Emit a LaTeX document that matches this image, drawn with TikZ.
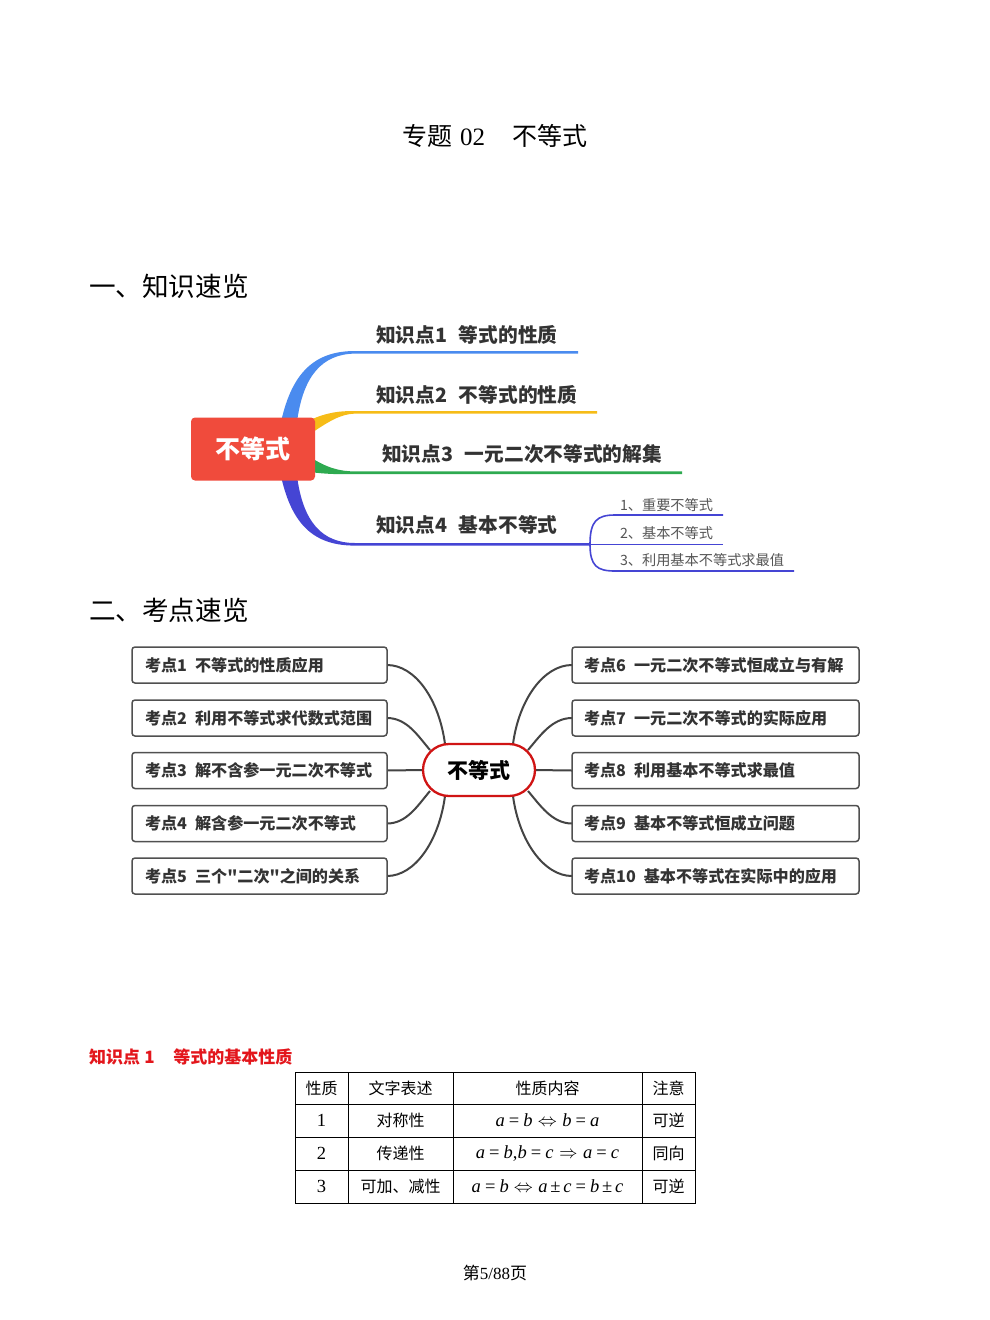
\documentclass[tikz,border=0pt]{standalone}
\usepackage{fontspec}
\usepackage{unicode-math}
\setmainfont{Liberation Serif}
\setmathfont{Latin Modern Math}
\newfontfamily\cjk{Noto Sans CJK SC}
\newcommand{\vi}[1]{\textit{#1}}
\newcommand{\eqs}{\hspace{0.22em}=\hspace{0.22em}}
\newcommand{\pms}{\hspace{0.15em}±\hspace{0.15em}}
\newcommand{\arr}[1]{\hspace{0.3em}$#1$\hspace{0.3em}}
\usetikzlibrary{calc,backgrounds}
\definecolor{mmred}{HTML}{F04B3C}
\definecolor{bblue}{HTML}{4A8BEF}
\definecolor{byellow}{HTML}{F6BC17}
\definecolor{bgreen}{HTML}{2EAA50}
\definecolor{bindigo}{HTML}{4545D4}
\definecolor{txtdark}{HTML}{333333}
\definecolor{txtgray}{HTML}{555555}
\definecolor{boxgray}{HTML}{505050}
\definecolor{linegray}{HTML}{444444}
\definecolor{cred}{HTML}{D01414}
\definecolor{headred}{HTML}{E3161C}
\begin{document}
\begin{tikzpicture}[x=1pt,y=-1pt,
  every node/.style={inner sep=0pt,outer sep=0pt},
  klabel/.style={anchor=west,text=txtdark,font=\fontsize{19.7}{22}\selectfont\cjk\bfseries},
  sublabel/.style={anchor=west,text=txtgray,font=\fontsize{14.2}{16}\selectfont\cjk},
  kbox/.style={draw=boxgray,line width=1.5pt,rounded corners=3pt,fill=white,align=left,
    inner xsep=13pt,minimum height=36pt,text=txtdark,font=\fontsize{16.1}{19}\selectfont\cjk\bfseries},
  lbox/.style={kbox,minimum width=255pt,text width=229pt},
  rbox/.style={kbox,inner xsep=12pt,minimum width=287pt,text width=263pt},
  conn/.style={draw=linegray,line width=2pt},
  cell/.style={font=\fontsize{16}{19}\selectfont\cjk},
  mcell/.style={font=\fontsize{18.5}{20}\selectfont},
  tline/.style={line width=0.9pt}]
\useasboundingbox (0,0) rectangle (990,1320);
\begin{pgfonlayer}{background}
\fill[white] (0,0) rectangle (990,1320);
\end{pgfonlayer}

% title and headings
\node (title) at (495,136) {\fontsize{25}{30}\selectfont\cjk 专题\hspace{0.3em}\rmfamily 02\hspace{1.1em}\cjk 不等式};
\node[anchor=west] (h1) at (89,286) {\fontsize{26.6}{30}\selectfont\cjk 一、知识速览};
\node[anchor=west] (h2) at (89,610) {\fontsize{26.6}{30}\selectfont\cjk 二、考点速览};

% ---------- mind map 1 ----------
\fill[bblue] (281,422) .. controls (292,372) and (315,351) .. (355,351) -- (578,351) -- (578,353.6)
  -- (355,353.6) .. controls (322,354) and (303,376) .. (297,422) -- cycle;
\fill[byellow] (310,420) .. controls (328,412) and (340,411) .. (355,411) -- (597,411) -- (597,413.6)
  -- (355,413.6) .. controls (340,414) and (328,422) .. (310,434) -- cycle;
\fill[bgreen] (310,457) .. controls (327,468) and (340,471.4) .. (355,471.4) -- (682,471.4) -- (682,474)
  -- (355,474) .. controls (338,474.5) and (325,474) .. (310,472) -- cycle;
\fill[bindigo] (281,476) .. controls (292,526) and (315,545.6) .. (355,545.6) -- (590,545.6) -- (590,543)
  -- (355,543) .. controls (322,543) and (303,522) .. (297,476) -- cycle;
\coordinate (fork) at (590,544.3);
\coordinate (s1) at (723,515);
\coordinate (s2) at (723,544.3);
\coordinate (s3) at (794,571);
\draw[bindigo,line width=1.6pt] (fork) .. controls (590,521) and (597,515) .. (615,515) -- (s1);
\draw[bindigo,line width=1.6pt] (fork) -- (s2);
\draw[bindigo,line width=1.6pt] (fork) .. controls (590,566) and (597,571) .. (615,571) -- (s3);

\node[fill=mmred,rounded corners=4pt,minimum width=124pt,minimum height=63pt] (root) at (253,449)
  {\fontsize{25}{30}\selectfont\cjk\bfseries\color{white}不等式};

\node[klabel] (k1) at (376,335) {知识点1\hspace{0.6em}等式的性质};
\node[klabel] (k2) at (376,395) {知识点2\hspace{0.6em}不等式的性质};
\node[klabel] (k3) at (382,454) {知识点3\hspace{0.6em}一元二次不等式的解集};
\node[klabel] (k4) at (376,525) {知识点4\hspace{0.6em}基本不等式};
\node[sublabel] (t1) at (620,505) {1、重要不等式};
\node[sublabel] (t2) at (620,533) {2、基本不等式};
\node[sublabel] (t3) at (620,560) {3、利用基本不等式求最值};

% ---------- mind map 2 ----------
\node[draw=cred,line width=2.3pt,fill=white,rounded corners=26pt,minimum width=112pt,minimum height=52pt]
  (c) at (479,770) {\fontsize{21}{24}\selectfont\cjk\bfseries 不等式};

\node[lbox] (L1) at (259.5,665) {\mbox{考点1\hspace{0.5em}不等式的性质应用}};
\node[lbox] (L2) at (259.5,718) {\mbox{考点2\hspace{0.5em}利用不等式求代数式范围}};
\node[lbox] (L3) at (259.5,770.5) {\mbox{考点3\hspace{0.5em}解不含参一元二次不等式}};
\node[lbox] (L4) at (259.5,823.5) {\mbox{考点4\hspace{0.5em}解含参一元二次不等式}};
\node[lbox] (L5) at (259.5,876) {\mbox{考点5\hspace{0.5em}三个"二次"之间的关系}};

\node[rbox] (R1) at (715.5,665) {\mbox{考点6\hspace{0.5em}一元二次不等式恒成立与有解}};
\node[rbox] (R2) at (715.5,718) {\mbox{考点7\hspace{0.5em}一元二次不等式的实际应用}};
\node[rbox] (R3) at (715.5,770.5) {\mbox{考点8\hspace{0.5em}利用基本不等式求最值}};
\node[rbox] (R4) at (715.5,823.5) {\mbox{考点9\hspace{0.5em}基本不等式恒成立问题}};
\node[rbox] (R5) at (715.5,876) {\mbox{考点10\hspace{0.5em}基本不等式在实际中的应用}};

\begin{pgfonlayer}{background}
\draw[conn] (L1.east) .. controls +(28,0) and +(-6,-45) .. ($(c.north west)+(22,0)$);
\draw[conn] (L2.east) .. controls +(20,0) and +(-12,-14) .. ($(c.west)+(7,-20)$);
\draw[conn] (L3.east) -- (c.west);
\draw[conn] (L4.east) .. controls +(20,0) and +(-12,14) .. ($(c.west)+(7,21)$);
\draw[conn] (L5.east) .. controls +(28,0) and +(-6,45) .. ($(c.south west)+(22,0)$);
\draw[conn] (R1.west) .. controls +(-28,0) and +(6,-45) .. ($(c.north east)+(-22,0)$);
\draw[conn] (R2.west) .. controls +(-20,0) and +(12,-14) .. ($(c.east)+(-7,-20)$);
\draw[conn] (R3.west) -- (c.east);
\draw[conn] (R4.west) .. controls +(-20,0) and +(12,14) .. ($(c.east)+(-7,21)$);
\draw[conn] (R5.west) .. controls +(-28,0) and +(6,45) .. ($(c.south east)+(-22,0)$);
\end{pgfonlayer}

% ---------- table ----------
\node[anchor=west,text=headred] (h3) at (89,1057)
  {\fontsize{17}{19}\selectfont\cjk\bfseries 知识点\hspace{0.25em}1\hspace{1.1em}等式的基本性质};
\draw[tline] (295,1072) rectangle (695,1203);
\foreach \yy in {1104,1137,1170} \draw[tline] (295,\yy) -- (695,\yy);
\foreach \xx in {348,453,642} \draw[tline] (\xx,1072) -- (\xx,1203);
\node[cell] (a1) at (321.5,1088) {性质};
\node[cell] (a2) at (400.5,1088) {文字表述};
\node[cell] (a3) at (547.5,1088) {性质内容};
\node[cell] (a4) at (668.5,1088) {注意};
\node[mcell] (b1) at (321.5,1120.5) {1};
\node[cell] (b2) at (400.5,1120.5) {对称性};
\node[mcell] (b3) at (547.5,1120.5) {\vi{a}\eqs\vi{b}\arr{\Leftrightarrow}\vi{b}\eqs\vi{a}};
\node[cell] (b4) at (668.5,1120.5) {可逆};
\node[mcell] (c1) at (321.5,1153.5) {2};
\node[cell] (c2) at (400.5,1153.5) {传递性};
\node[mcell] (c3) at (547.5,1153.5) {\vi{a}\eqs\vi{b},\vi{b}\eqs\vi{c}\arr{\Rightarrow}\vi{a}\eqs\vi{c}};
\node[cell] (c4) at (668.5,1153.5) {同向};
\node[mcell] (d1) at (321.5,1186.5) {3};
\node[cell] (d2) at (400.5,1186.5) {可加、减性};
\node[mcell] (d3) at (547.5,1186.5) {\vi{a}\eqs\vi{b}\arr{\Leftrightarrow}\vi{a}\pms\vi{c}\eqs\vi{b}\pms\vi{c}};
\node[cell] (d4) at (668.5,1186.5) {可逆};

% footer
\node (foot) at (495,1273) {\fontsize{17}{20}\selectfont\cjk 第\rmfamily 5/88\cjk 页};
\end{tikzpicture}
\end{document}
